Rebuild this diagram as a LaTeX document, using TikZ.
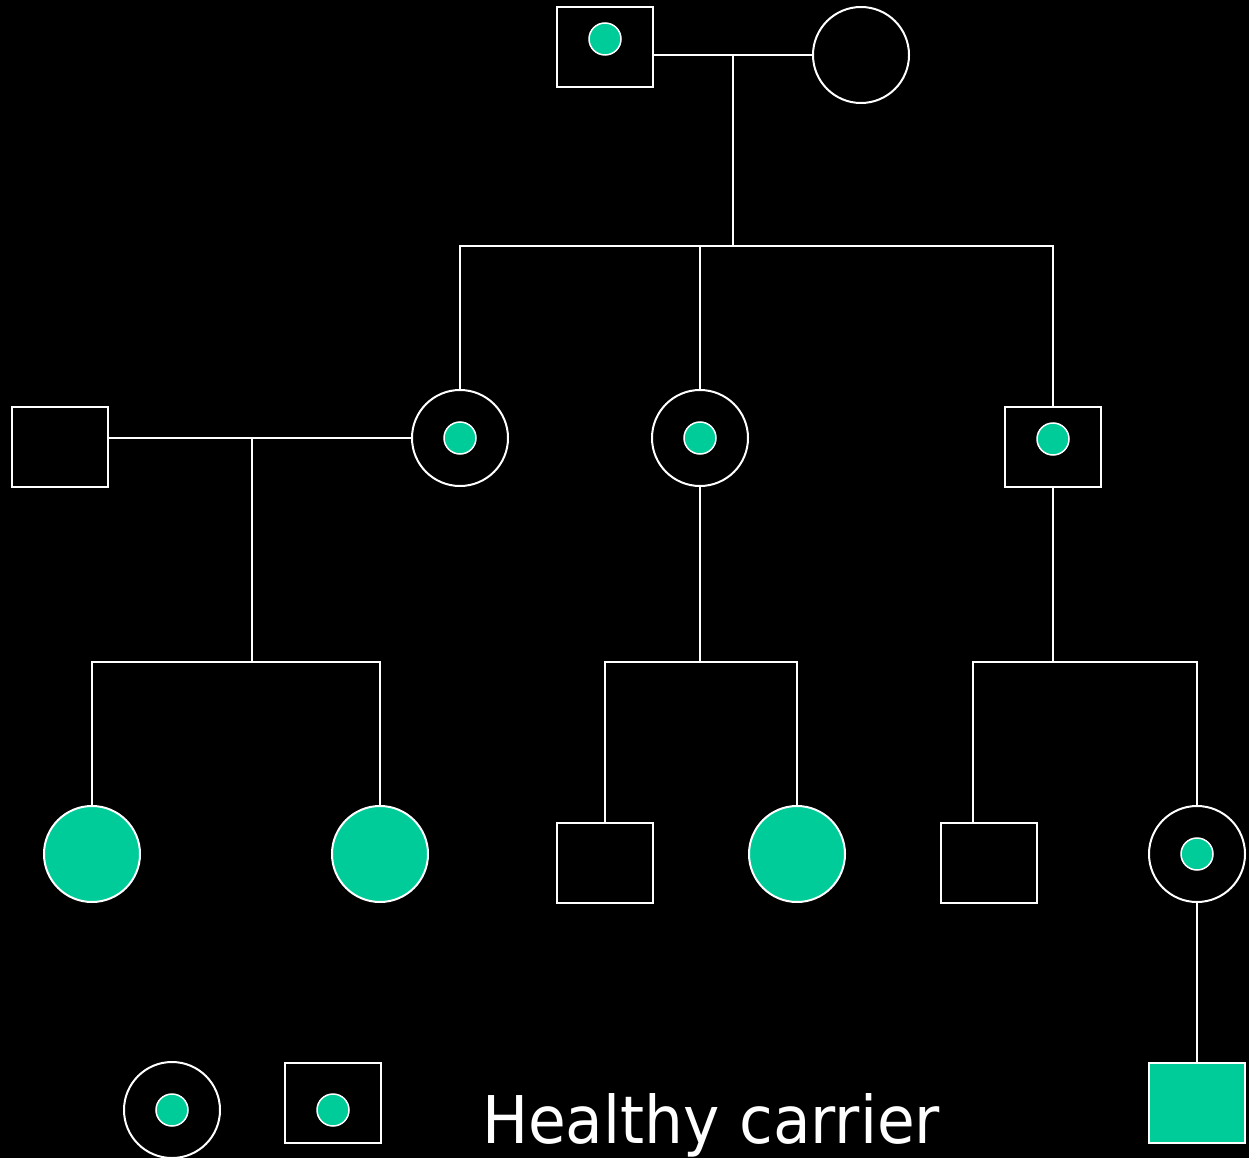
\documentclass[tikz,border=0pt]{standalone}
\usepackage{fontspec}
\setmainfont{DejaVu Sans}
\definecolor{carrier}{HTML}{00CC99}
\begin{document}
\begin{tikzpicture}[x=1pt,y=-1pt,
  line width=2pt,
  every node/.style={inner sep=0pt,outer sep=0pt},
  male/.style={draw=white,rectangle,minimum width=96pt,minimum height=80pt},
  female/.style={draw=white,circle,minimum size=96pt},
  affected/.style={fill=carrier},
  dot/.style={draw=white,line width=1.5pt,circle,fill=carrier,minimum size=32pt},
  link/.style={draw=white,line width=2pt}]
\fill[black] (0,0) rectangle (1249,1158);
\useasboundingbox (0,0) rectangle (1249,1158);
% generation I
\node[male] (gA) at (605,47) {};
\node[dot] (dA) at (605,39) {};
\node[female] (gB) at (861,55) {};
% generation II
\node[male] (q0) at (60,447) {};
\node[female] (c1) at (460,438) {};
\node[dot] (d1) at (460,438) {};
\node[female] (c2) at (700,438) {};
\node[dot] (d2) at (700,438) {};
\node[male] (q3) at (1053,447) {};
\node[dot] (d3) at (1053,439) {};
% generation III
\node[female,affected] (f1) at (92,854) {};
\node[female,affected] (f2) at (380,854) {};
\node[male] (q4) at (605,863) {};
\node[female,affected] (f3) at (797,854) {};
\node[male] (q5) at (989,863) {};
\node[female] (c6) at (1197,854) {};
\node[dot] (d6) at (1197,854) {};
% generation IV
\node[male,affected] (q7) at (1197,1103) {};
% legend
\node[female] (lc) at (172,1110) {};
\node[dot] (ldc) at (172,1110) {};
\node[male] (lq) at (333,1103) {};
\node[dot] (ldq) at (333,1110) {};
\node[anchor=base west,text=white] (lt) at (482,1143) {\resizebox{458pt}{50pt}{Healthy carrier}};
% coordinates
\coordinate (m1) at (733,55);
\coordinate (s1) at (733,246);
\coordinate (m2) at (252,438);
\coordinate (s2) at (252,662);
\coordinate (s3) at (700,662);
\coordinate (s4) at (1053,662);
\coordinate (b5) at (973,662);
% connectors
\draw[link] (gB.west -| gA.east) -- (gB.west);
\draw[link] (m1) -- (s1);
\draw[link] (c1.north) |- (s1) -| (q3.north);
\draw[link] (c2.north) -- (c2.north |- s1);
\draw[link] (c1.west -| q0.east) -- (c1.west);
\draw[link] (m2) -- (s2);
\draw[link] (f1.north) |- (s2) -| (f2.north);
\draw[link] (c2.south) -- (s3);
\draw[link] (q4.north) |- (s3) -| (f3.north);
\draw[link] (q3.south) -- (s4);
\draw[link] (b5 |- q5.north) -- (b5) -| (c6.north);
\draw[link] (c6.south) -- (q7.north);
\end{tikzpicture}
\end{document}
